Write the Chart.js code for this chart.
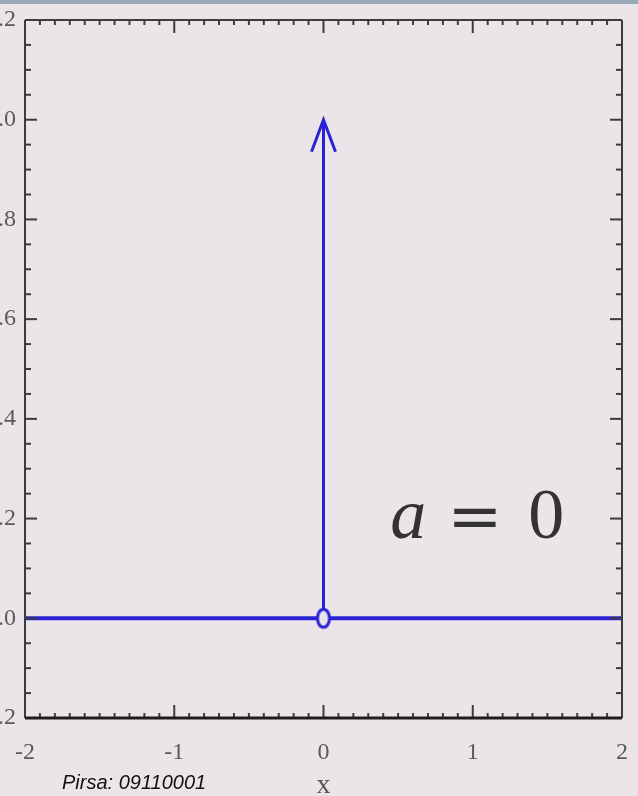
<!DOCTYPE html>
<html>
<head>
<meta charset="utf-8">
<script src="https://cdn.jsdelivr.net/npm/chart.js@4.4.1/dist/chart.umd.min.js"></script>
<style>
  html, body { margin: 0; padding: 0; width: 638px; height: 796px; overflow: hidden; background: #ebe5ea; }
  #topbar { position: absolute; left: 0; top: 0; width: 638px; height: 4px; background: #97a9b6; }
  /* canvas is shifted left so the y tick labels are cut by the page edge */
  #wrap { position: absolute; left: -25px; top: 0; width: 663px; height: 796px; }
  #credit { position: absolute; left: 62px; top: 771px; font: italic 20px "Liberation Sans", Arial, sans-serif; color: #111; }
</style>
</head>
<body>
<div id="topbar"></div>
<div id="wrap"><canvas id="plot"></canvas></div>
<div id="credit">Pirsa: 09110001</div>
<script>
// axes
const xTickVals = [-2, -1, 0, 1, 2];
const xTickLabels = ['-2', '-1', '0', '1', '2'];
const yTickVals = [-0.2, 0, 0.2, 0.4, 0.6, 0.8, 1.0, 1.2];
const yTickLabels = ['-0.2', '0.0', '0.2', '0.4', '0.6', '0.8', '1.0', '1.2'];

// f(x) for a = 0: zero everywhere, a spike of height 1 at x = 0
const baseX = [-2, 2];
const baseY = [0, 0];
const spikeX = [0, 0];
const spikeY = [0, 1];
const holeX = [0];
const holeY = [0];

const lineBlue = '#2b22d6';
const bg = '#ebe5ea';

// open marker, a bit taller than wide
const hole = document.createElement('canvas');
hole.width = 18; hole.height = 24;
(function () {
    const c = hole.getContext('2d');
    c.beginPath();
    c.ellipse(9, 12, 6, 9, 0, 0, Math.PI * 2);
    c.fillStyle = bg;
    c.fill();
    c.lineWidth = 3;
    c.strokeStyle = lineBlue;
    c.stroke();
})();

const pts = (xs, ys) => xs.map((x, i) => ({ x: x, y: ys[i] }));

// frame with inward ticks on all four sides
const frame = {
    id: 'frame',
    afterDatasetsDraw(chart) {
        const { ctx, chartArea: a, scales: { x, y } } = chart;
        ctx.save();
        ctx.strokeStyle = '#3c3c3c';
        ctx.lineCap = 'butt';

        ctx.lineWidth = 2;
        const tick = (x1, y1, x2, y2) => { ctx.beginPath(); ctx.moveTo(x1, y1); ctx.lineTo(x2, y2); ctx.stroke(); };

        // x ticks: major every 1, minor every 0.1
        for (let i = 0; i <= 40; i++) {
            const v = -2 + i * 0.1;
            const px = x.getPixelForValue(v);
            const len = i % 10 === 0 ? 13 : 5;
            tick(px, a.top, px, a.top + len);
            tick(px, a.bottom, px, a.bottom - len);
        }
        // y ticks: major every 0.2, minor every 0.05
        for (let i = 0; i <= 28; i++) {
            const v = -0.2 + i * 0.05;
            const py = y.getPixelForValue(v);
            const len = i % 4 === 0 ? 12 : 6;
            tick(a.left, py, a.left + len, py);
            tick(a.right, py, a.right - len, py);
        }

        ctx.lineWidth = 2;
        tick(a.left, a.top, a.right, a.top);
        tick(a.left, a.top, a.left, a.bottom);
        tick(a.right, a.top, a.right, a.bottom);
        ctx.lineWidth = 3;
        ctx.strokeStyle = '#1e1e1e';
        tick(a.left, a.bottom, a.right, a.bottom);
        ctx.restore();
    }
};

// arrow head on top of the spike
const arrowHead = {
    id: 'arrowHead',
    afterDatasetsDraw(chart) {
        const { ctx, scales: { x, y } } = chart;
        const tx = x.getPixelForValue(spikeX[1]);
        const ty = y.getPixelForValue(spikeY[1]);
        ctx.save();
        ctx.strokeStyle = lineBlue;
        ctx.lineWidth = 3;
        ctx.lineJoin = 'miter';
        ctx.beginPath();
        ctx.moveTo(tx - 12, ty + 32);
        ctx.lineTo(tx, ty);
        ctx.lineTo(tx + 12, ty + 32);
        ctx.stroke();
        ctx.restore();
    }
};

// "a = 0" caption
const caption = {
    id: 'caption',
    afterDraw(chart) {
        const { ctx, scales: { x, y } } = chart;
        const px = x.getPixelForValue(0.46);
        const py = y.getPixelForValue(0.162);
        ctx.save();
        ctx.fillStyle = '#333';
        ctx.textBaseline = 'alphabetic';
        ctx.font = 'italic 72px "Liberation Serif"';
        ctx.fillText('a', px - 2, py);
        ctx.font = '66px "DejaVu Serif"';
        ctx.fillText('=', px + 55, py);
        ctx.font = '72px "Liberation Serif"';
        ctx.fillText('0', px + 136, py);
        ctx.restore();
    }
};

new Chart(document.getElementById('plot'), {
    type: 'scatter',
    data: {
        datasets: [
            {
                data: pts(holeX, holeY),
                pointStyle: hole,
                pointRadius: 9
            },
            {
                data: pts(spikeX, spikeY),
                showLine: true,
                borderColor: lineBlue,
                borderWidth: 3,
                pointRadius: 0
            },
            {
                data: pts(baseX, baseY),
                showLine: true,
                borderColor: lineBlue,
                borderWidth: 4,
                pointRadius: 0
            }
        ]
    },
    options: {
        responsive: true,
        maintainAspectRatio: false,
        animation: false,
        layout: { padding: { top: 20, right: 16, left: 0, bottom: 0 } },
        plugins: { legend: { display: false }, tooltip: { enabled: false } },
        scales: {
            x: {
                type: 'linear',
                min: -2, max: 2,
                grid: { display: false, drawTicks: false },
                border: { display: false },
                afterBuildTicks: (s) => { s.ticks = xTickVals.map(v => ({ value: v })); },
                afterFit: (s) => { s.height = 78; s.paddingLeft = 0; s.paddingRight = 0; },
                ticks: {
                    padding: 20,
                    color: '#5a5a5a',
                    font: { family: 'Liberation Serif', size: 24 },
                    callback: (v) => xTickLabels[xTickVals.indexOf(v)]
                },
                title: {
                    display: true,
                    text: 'x',
                    color: '#555',
                    font: { family: 'Liberation Serif', size: 28 },
                    padding: { top: 0, bottom: -6 }
                }
            },
            y: {
                type: 'linear',
                min: -0.2, max: 1.2,
                grid: { display: false, drawTicks: false },
                border: { display: false },
                afterBuildTicks: (s) => { s.ticks = yTickVals.map(v => ({ value: v })); },
                afterFit: (s) => { s.width = 50; s.paddingTop = 0; s.paddingBottom = 0; },
                ticks: {
                    padding: 9,
                    color: '#5a5a5a',
                    font: { family: 'Liberation Serif', size: 24 },
                    callback: (v) => yTickLabels[yTickVals.indexOf(v)]
                }
            }
        }
    },
    plugins: [frame, arrowHead, caption]
});
</script>
</body>
</html>
